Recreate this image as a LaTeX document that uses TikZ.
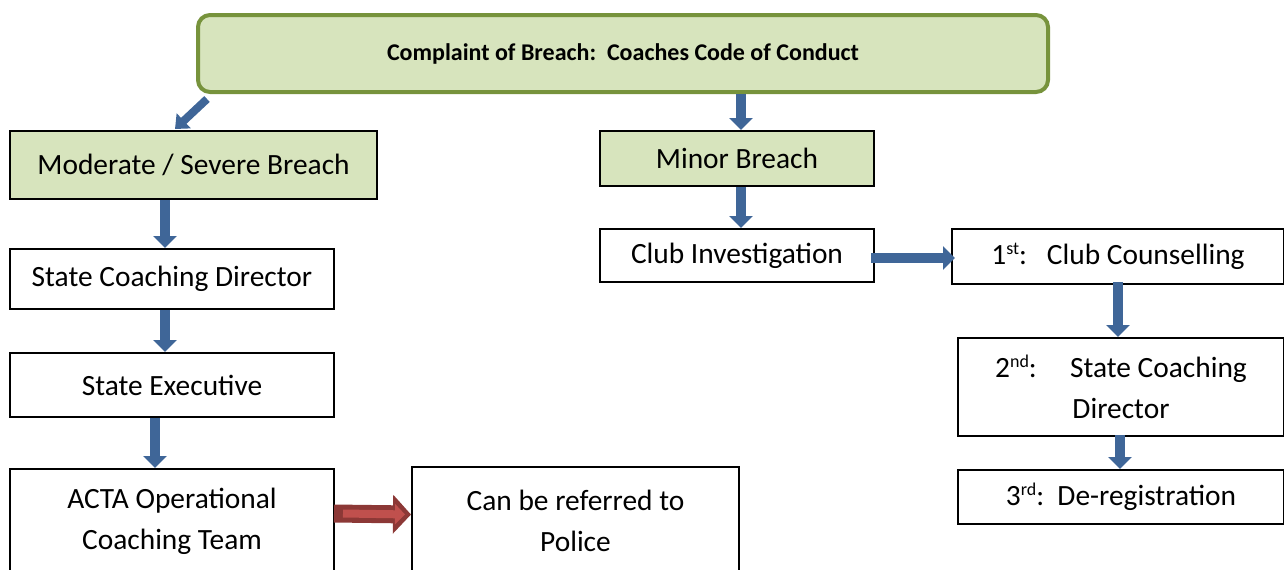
\documentclass[tikz,border=0pt]{standalone}
\usepackage{fontspec}
\setmainfont{Carlito}
\usetikzlibrary{arrows.meta}
\usepackage{xcolor}
\definecolor{breachgreen}{HTML}{D7E4BD}
\definecolor{breachborder}{HTML}{77933C}
\definecolor{arrowblue}{HTML}{3F6698}
\definecolor{policered}{HTML}{C0504D}
\definecolor{policeborder}{HTML}{8C3836}

\newcommand{\ordsup}[1]{\raisebox{0.7ex}{\fontsize{9}{9}\selectfont #1}}

\tikzset{
  flowbox/.style={rectangle, draw=black, line width=1pt, fill=white, anchor=north west,
    align=center, inner sep=0pt, font=\fontsize{14.7}{20.5}\selectfont},
  greenbox/.style={flowbox, fill=breachgreen},
  blockarrow/.style={draw=arrowblue, line width=5pt, -{Triangle[length=6pt,width=11.5pt]}},
}

\begin{document}
\begin{tikzpicture}[x=0.5pt, y=-0.5pt]

    \path[use as bounding box, clip] (0,0) rectangle (1284,569);

    % Define nodes
    \node[rectangle, rounded corners=6pt, draw=breachborder, line width=2pt, fill=breachgreen,
      anchor=north west, minimum width=425pt, minimum height=38.5pt,
      font=\fontsize{12}{14}\selectfont\bfseries] (complaint) at (196,13)
      {Complaint of Breach:\ \ Coaches Code of Conduct};
    \node[greenbox, minimum width=183.5pt, minimum height=34pt] (moderate) at (9,130) {Moderate / Severe Breach};
    \node[greenbox, minimum width=137pt, minimum height=27.5pt] (minor) at (599,130) {Minor Breach};
    \node[flowbox, minimum width=162pt, minimum height=30pt] (scd) at (9,248) {State Coaching Director};
    \node[flowbox, minimum width=162pt, minimum height=32pt] (exec) at (9,352) {State Executive};
    \node[flowbox, minimum width=162pt, minimum height=52.5pt] (acta) at (9,468) {ACTA Operational\\Coaching Team};
    \node[flowbox, minimum width=163.5pt, minimum height=53.5pt] (police) at (411,466) {Can be referred to\\Police};
    \node[flowbox, minimum width=137pt, minimum height=26.5pt] (club) at (599,228) {Club Investigation};
    \node[flowbox, minimum width=166pt, minimum height=27.5pt] (first) at (951,228)
      {1\ordsup{st}:\ \ \ Club Counselling};
    \node[flowbox, minimum width=163pt, minimum height=49pt] (second) at (957,337)
      {2\ordsup{nd}:\ \ \ \ \ State Coaching\\Director};
    \node[flowbox, minimum width=163pt, minimum height=27pt] (third) at (957,469)
      {3\ordsup{rd}:\ \ De-registration};

    % Connect the nodes
    \draw[blockarrow, line width=4pt, -{Triangle[length=6pt,width=10pt]}]
      ([shift={(11,5)}]complaint.south west) -- ([shift={(166,-1)}]moderate.north west);
    \draw[blockarrow] ([shift={(545,0)}]complaint.south west) -- ([shift={(142,0)}]minor.north west);
    \draw[blockarrow] ([shift={(156,0)}]moderate.south west) -- ([shift={(156,0)}]scd.north west);
    \draw[blockarrow] ([shift={(156,0)}]scd.south west) -- ([shift={(156,0)}]exec.north west);
    \draw[blockarrow] ([shift={(146,0)}]exec.south west) -- ([shift={(146,0)}]acta.north west);
    \draw[blockarrow] ([shift={(142,0)}]minor.south west) -- ([shift={(142,0)}]club.north west);
    \draw[blockarrow] ([shift={(-4,2.5)}]club.east) -- ([shift={(4,1.5)}]first.west);
    \draw[blockarrow] ([shift={(167,-3)}]first.south west) -- ([shift={(161,0)}]second.north west);
    \draw[blockarrow] ([shift={(163,-2)}]second.south west) -- ([shift={(163,0)}]third.north west);
    \draw[policeborder, line width=9pt, -{Triangle[length=9pt,width=19pt]}]
      ([shift={(-1,-8)}]acta.east) -- ([shift={(0,-6)}]police.west);
    \draw[policered, line width=4pt, -{Triangle[length=5pt,width=10pt]}, shorten >=3pt]
      ([shift={(8,-8)}]acta.east) -- ([shift={(0,-6)}]police.west);

\end{tikzpicture}
\end{document}
